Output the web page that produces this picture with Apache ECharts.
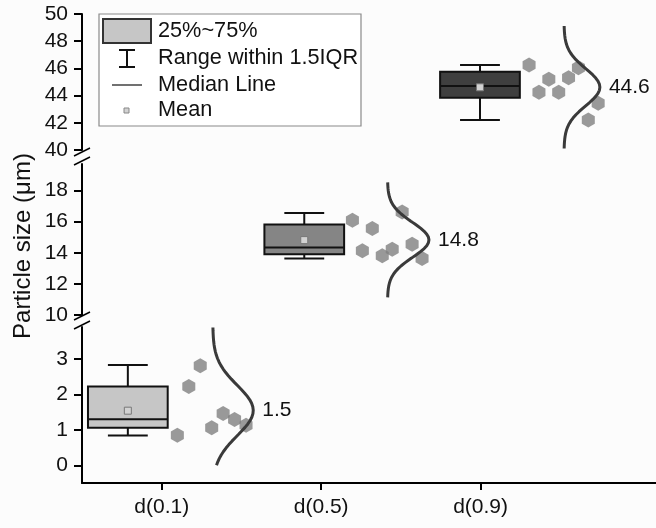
<!DOCTYPE html>
<html>
<head>
<meta charset="utf-8">
<script src="https://cdn.jsdelivr.net/npm/echarts@6.0.0/dist/echarts.min.js"></script>
<style>
html,body{margin:0;padding:0;background:#fcfcfc;}
#chart{width:656px;height:528px;}
</style>
</head>
<body>
<div id="chart"></div>
<script>
// ---------------- data ----------------
const categories = ['d(0.1)', 'd(0.5)', 'd(0.9)'];
const boxLow    = [0.84, 13.63, 42.21];
const boxQ1     = [1.06, 13.91, 43.85];
const boxMedian = [1.30, 14.34, 44.71];
const boxQ3     = [2.22, 15.81, 45.76];
const boxHigh   = [2.83, 16.56, 46.25];
const means     = [1.54, 14.81, 44.61];
const points01  = [0.85, 2.22, 2.81, 1.06, 1.46, 1.29, 1.13];
const points05  = [16.09, 14.12, 15.56, 13.80, 14.23, 16.62, 14.55, 13.63];
const points09  = [46.25, 44.24, 45.20, 44.24, 45.32, 46.05, 42.21, 43.43];
const yTicksBottom = [0, 1, 2, 3];
const yTicksMiddle = [10, 12, 14, 16, 18];
const yTicksTop    = [40, 42, 44, 46, 48, 50];
const yMinorBottom = [0.5, 1.5, 2.5, 3.5];
const yMinorMiddle = [11, 13, 15, 17, 19];
const yMinorTop    = [41, 43, 45, 47, 49];
const xTicks = [1, 2, 3];

// ---------------- layout / style ----------------
const FONT = '"Liberation Sans", Arial, Helvetica, sans-serif';
const groups = [points01, points05, points09];
const yTicks = [yTicksBottom, yTicksMiddle, yTicksTop];
const yMinor = [yMinorBottom, yMinorMiddle, yMinorTop];
const yRanges = [[-0.5, 3.9], [10, 19.7], [40, 50]];
const grids = [
  {left: 82, width: 576, top: 327, height: 156},
  {left: 82, width: 576, top: 164, height: 151},
  {left: 82, width: 576, top: 14,  height: 136}
];
const boxX = [0.7875, 1.894, 2.996];
const boxWidth = 0.5, capWidth = 0.25;
const boxFill = ['#c6c6c6', '#858585', '#3f3f3f'];
const pointStart = [1.098, 2.196, 3.304];
const pointStep  = [0.0718, 0.0624, 0.0619];
const curveBase = [1.32, 2.416, 3.523];
const curveAmp  = [0.254, 0.26, 0.225];
const curveSpan = 3.3;

function avg(a){ return a.reduce((s,v)=>s+v,0)/a.length; }
function sd(a){ const m = avg(a); return Math.sqrt(a.reduce((s,v)=>s+(v-m)*(v-m),0)/(a.length-1)); }

function curveData(i){
  const pts = groups[i];
  const mu = avg(pts), s = sd(pts);
  let lo = mu - curveSpan*s, hi = mu + curveSpan*s;
  lo = Math.max(lo, 0);
  const out = [];
  const N = 80;
  for (let k = 0; k <= N; k++) {
    const y = lo + (hi-lo)*k/N;
    const z = (y-mu)/s;
    out.push([curveBase[i] + curveAmp[i]*Math.exp(-0.5*z*z), y]);
  }
  return out;
}

const hexagon = 'path://M0,-10 L8.66,-5 L8.66,5 L0,10 L-8.66,5 L-8.66,-5 Z';

const xAxes = grids.map((g, i) => ({
  gridIndex: i, type: 'value', min: 0.5, max: 4.1, show: i === 0,
  axisLine: {show: true, onZero: false, lineStyle: {color: '#000', width: 2}},
  axisTick: {show: true, customValues: xTicks, length: 7, lineStyle: {color: '#000', width: 2}},
  axisLabel: {customValues: xTicks, formatter: v => categories[Math.round(v)-1] || '',
              fontSize: 21, color: '#111', margin: 14, fontFamily: FONT},
  splitLine: {show: false}
}));

const yAxes = [];
grids.forEach((g, i) => {
  yAxes.push({
    gridIndex: i, type: 'value', min: yRanges[i][0], max: yRanges[i][1],
    axisLine: {show: true, onZero: false, lineStyle: {color: '#000', width: 2}},
    axisTick: {show: true, customValues: yTicks[i], length: 8, lineStyle: {color: '#000', width: 2}},
    axisLabel: {customValues: yTicks[i], fontSize: 21, color: '#111', margin: 14, fontFamily: FONT},
    splitLine: {show: false}
  });
});
grids.forEach((g, i) => {
  yAxes.push({
    gridIndex: i, type: 'value', min: yRanges[i][0], max: yRanges[i][1],
    axisLine: {show: false},
    axisTick: {show: true, customValues: yMinor[i], length: 4, lineStyle: {color: '#000', width: 1.5}},
    axisLabel: {show: false},
    splitLine: {show: false}
  });
});

const series = [];
grids.forEach((g, i) => {
  series.push({
    type: 'custom', xAxisIndex: i, yAxisIndex: i, z: 3,
    data: [[boxX[i], boxLow[i], boxQ1[i], boxMedian[i], boxQ3[i], boxHigh[i], means[i]]],
    renderItem: function (params, api) {
      const x = api.value(0);
      const pLo = api.coord([x, api.value(1)]);
      const pQ1 = api.coord([x, api.value(2)]);
      const pMed = api.coord([x, api.value(3)]);
      const pQ3 = api.coord([x, api.value(4)]);
      const pHi = api.coord([x, api.value(5)]);
      const pMean = api.coord([x, api.value(6)]);
      const bw = api.size([boxWidth, 0])[0];
      const cw = api.size([capWidth, 0])[0];
      const ls = {stroke: '#111', lineWidth: 2};
      const peak = api.coord([curveBase[i] + curveAmp[i], api.value(6)]);
      return {
        type: 'group',
        children: [
          {type: 'line', shape: {x1: pHi[0], y1: pHi[1], x2: pQ3[0], y2: pQ3[1]}, style: ls},
          {type: 'line', shape: {x1: pLo[0], y1: pLo[1], x2: pQ1[0], y2: pQ1[1]}, style: ls},
          {type: 'line', shape: {x1: pHi[0]-cw/2, y1: pHi[1], x2: pHi[0]+cw/2, y2: pHi[1]}, style: ls},
          {type: 'line', shape: {x1: pLo[0]-cw/2, y1: pLo[1], x2: pLo[0]+cw/2, y2: pLo[1]}, style: ls},
          {type: 'rect', shape: {x: pQ3[0]-bw/2, y: pQ3[1], width: bw, height: pQ1[1]-pQ3[1]},
           style: {fill: boxFill[i], stroke: '#111', lineWidth: 2}},
          {type: 'line', shape: {x1: pMed[0]-bw/2, y1: pMed[1], x2: pMed[0]+bw/2, y2: pMed[1]}, style: ls},
          {type: 'rect', shape: {x: pMean[0]-3.5, y: pMean[1]-3.5, width: 7, height: 7},
           style: {fill: '#d2d2d2', stroke: '#777', lineWidth: 1}},
          {type: 'text', x: peak[0] + 9, y: peak[1],
           style: {text: api.value(6).toFixed(1), fill: '#111', fontSize: 21, fontFamily: FONT,
                   align: 'left', verticalAlign: 'middle'}}
        ]
      };
    }
  });
  series.push({
    type: 'scatter', xAxisIndex: i, yAxisIndex: i, z: 2,
    symbol: hexagon, symbolSize: [13, 15],
    itemStyle: {color: '#7f7f7f'},
    data: groups[i].map((v, k) => [pointStart[i] + k*pointStep[i], v])
  });
  series.push({
    type: 'line', xAxisIndex: i, yAxisIndex: i, z: 4,
    showSymbol: false, smooth: false,
    lineStyle: {color: '#3a3a3a', width: 3},
    data: curveData(i)
  });
});

function breakMarks(yc){
  return {type: 'line', shape: {x1: 74, y1: yc+4, x2: 90, y2: yc-4}, style: {stroke: '#000', lineWidth: 1.5}, z: 10};
}

const legendRowY = [31, 58, 85, 110];
const legendText = ['25%~75%', 'Range within 1.5IQR', 'Median Line', 'Mean'];
const graphic = [
  {type: 'rect', shape: {x: 99, y: 14, width: 262, height: 112}, style: {fill: '#fff', stroke: '#8a8a8a', lineWidth: 1.2}, z: 20},
  {type: 'rect', shape: {x: 103, y: 19, width: 48, height: 24}, style: {fill: '#c6c6c6', stroke: '#333', lineWidth: 2}, z: 21},
  {type: 'line', shape: {x1: 127, y1: 50, x2: 127, y2: 67}, style: {stroke: '#111', lineWidth: 2}, z: 21},
  {type: 'line', shape: {x1: 119, y1: 50, x2: 135, y2: 50}, style: {stroke: '#111', lineWidth: 2}, z: 21},
  {type: 'line', shape: {x1: 119, y1: 67, x2: 135, y2: 67}, style: {stroke: '#111', lineWidth: 2}, z: 21},
  {type: 'line', shape: {x1: 112, y1: 85, x2: 142, y2: 85}, style: {stroke: '#111', lineWidth: 1.2}, z: 21},
  {type: 'rect', shape: {x: 124, y: 108, width: 5, height: 5}, style: {fill: '#d2d2d2', stroke: '#888', lineWidth: 1}, z: 21},
  {type: 'text', x: 23, y: 246, rotation: Math.PI/2,
   style: {text: 'Particle size (μm)', fill: '#111', fontSize: 24, fontFamily: FONT, align: 'center', verticalAlign: 'middle'}, z: 20},
  breakMarks(152), breakMarks(161), breakMarks(316), breakMarks(325)
];
legendText.forEach((t, k) => {
  graphic.push({type: 'text', x: 158, y: legendRowY[k],
    style: {text: t, fill: '#111', fontSize: 21.7, fontFamily: FONT, align: 'left', verticalAlign: 'middle'}, z: 22});
});

const chart = echarts.init(document.getElementById('chart'));
chart.setOption({
  backgroundColor: '#fcfcfc',
  animation: false,
  grid: grids,
  xAxis: xAxes,
  yAxis: yAxes,
  series: series,
  graphic: graphic
});
</script>
</body>
</html>
